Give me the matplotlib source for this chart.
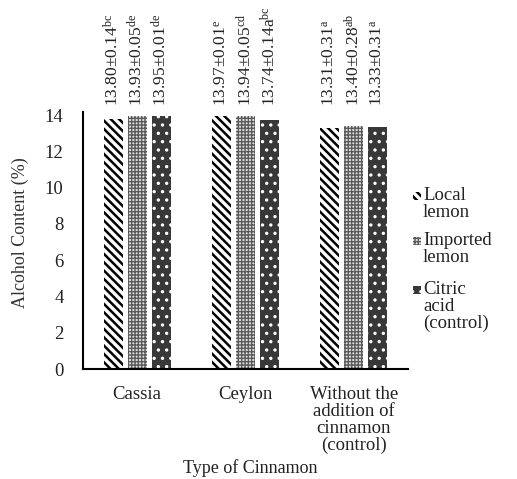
import numpy as np
import matplotlib
matplotlib.use("Agg")
import matplotlib.pyplot as plt
from matplotlib.patches import Rectangle

plt.rcParams['font.family'] = ['Liberation Serif', 'DejaVu Serif']
plt.rcParams['mathtext.fontset'] = 'custom'
plt.rcParams['mathtext.rm'] = 'Liberation Serif'
plt.rcParams['mathtext.it'] = 'Liberation Serif'

categories = ["Cassia", "Ceylon", "Without the\naddition of\ncinnamon\n(control)"]
series_names = ["Local\nlemon", "Imported\nlemon", "Citric\nacid\n(control)"]
local_lemon = [13.80, 13.97, 13.31]
imported_lemon = [13.93, 13.94, 13.40]
citric_acid = [13.95, 13.74, 13.33]
local_err = ["0.14", "0.01", "0.31"]
imported_err = ["0.05", "0.05", "0.28"]
citric_err = ["0.01", "0.14a", "0.31"]
local_sup = ["bc", "e", "a"]
imported_sup = ["de", "cd", "ab"]
citric_sup = ["de", "bc", "a"]

W, H = 517, 479
fig = plt.figure(figsize=(W / 100, H / 100), dpi=100)
ax = fig.add_axes([83 / W, 1 - 369 / H, 325 / W, 254 / H])

x = np.arange(len(categories))
w = 0.176
step = 0.222
styles = [
    dict(facecolor='white', edgecolor='black', hatch='\\\\\\\\'),
    dict(facecolor='#e0e0e0', edgecolor='#5a5a5a', hatch='+++++'),
    dict(facecolor='#383838', edgecolor='white', hatch='..'),
]
hatch_lw = [1.8, 1.0, 1.2]
data = [local_lemon, imported_lemon, citric_acid]
errs = [local_err, imported_err, citric_err]
sups = [local_sup, imported_sup, citric_sup]

for i in range(3):
    pos = x + (i - 1) * step
    with plt.rc_context({'hatch.linewidth': hatch_lw[i]}):
        bars = ax.bar(pos, data[i], w, linewidth=0, **styles[i])
    for b in bars:
        if hasattr(b, 'set_hatch_linewidth'):
            b.set_hatch_linewidth(hatch_lw[i])
    for p, v, e, s in zip(pos, data[i], errs[i], sups[i]):
        ax.text(p, 14.5, f"{v:.2f}±{e}" + r"$^{\rm " + s + "}$",
                rotation=90, ha='center', va='bottom', fontsize=12.5,
                color='#222222')

ax.set_ylim(0, 14)
ax.set_xlim(-0.5, 2.5)
ax.set_yticks(range(0, 15, 2))
ax.set_xticks(x)
ax.set_xticklabels(categories, fontsize=13.5, linespacing=1.0)
ax.tick_params(axis='both', length=0, labelsize=13.5, colors='#222222')
ax.tick_params(axis='y', pad=14)
ax.tick_params(axis='x', pad=12)
for sp in ['top', 'right']:
    ax.spines[sp].set_visible(False)
ax.spines['left'].set_linewidth(1.5)
ax.spines['bottom'].set_linewidth(1.5)
ax.spines['left'].set_bounds(0, 14.15)

ax.set_ylabel("Alcohol Content (%)", fontsize=13, color='#333333')
ax.yaxis.set_label_coords(-0.165, 0.535)
ax.set_xlabel("Type of Cinnamon", fontsize=13, color='#222222')
ax.xaxis.set_label_coords(0.515, -0.355)

# legend drawn by hand so the swatch sits on the first line
leg_y = [196, 241, 290]
for i in range(3):
    yy = 1 - leg_y[i] / H
    with plt.rc_context({'hatch.linewidth': hatch_lw[i]}):
        sw = Rectangle((413 / W, yy - 4 / H), 8 / W, 8 / H,
                       transform=fig.transFigure, linewidth=0, **styles[i])
    fig.patches.append(sw)
    fig.text(423 / W, yy + 9 / H, series_names[i], fontsize=13.5, va='top',
             ha='left', linespacing=1.0, color='#222222')

fig.savefig("out.png", dpi=100)
